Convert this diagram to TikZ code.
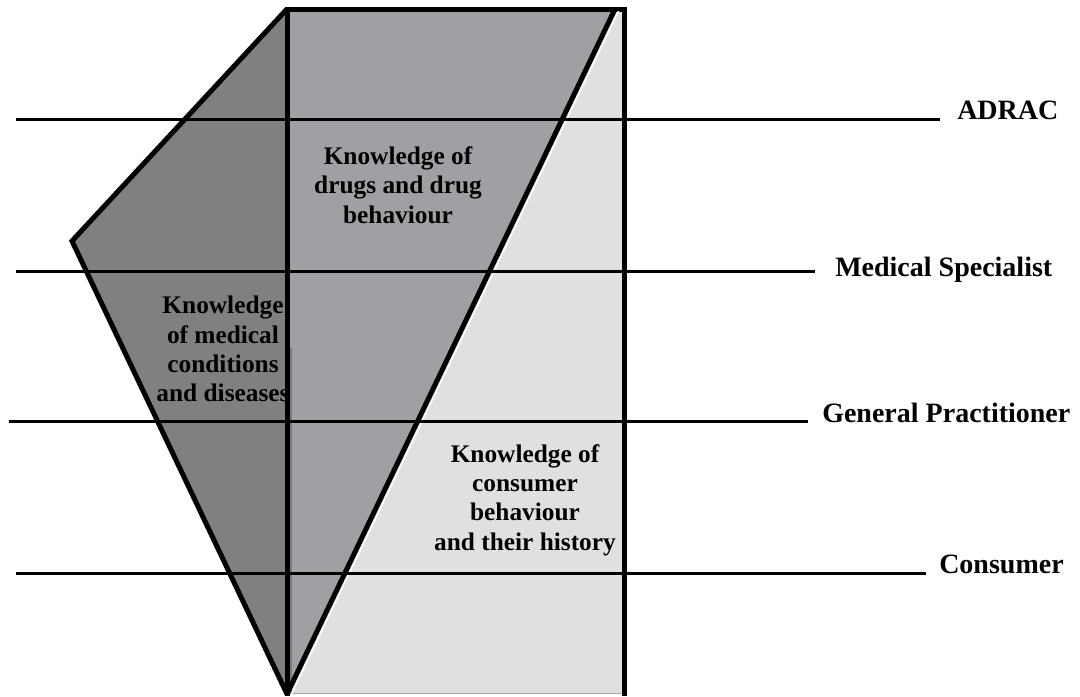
\documentclass[tikz,border=0pt]{standalone}
\usepackage{fontspec}
\setmainfont{Liberation Serif}
\definecolor{darkshade}{HTML}{808080}
\definecolor{midshade}{HTML}{A09FA4}
\definecolor{lightshade}{HTML}{E0E0E0}
\begin{document}
\begin{tikzpicture}[x=0.75pt,y=-0.75pt,
  outline/.style={line width=3.75pt, line join=miter},
  level/.style={line width=2.25pt},
  levellabel/.style={inner sep=0pt, anchor=base west, font=\fontsize{21}{24}\selectfont\bfseries},
  areatext/.style={inner sep=0pt, align=center, font=\fontsize{19}{22}\selectfont\bfseries}]
\useasboundingbox (0,0) rectangle (1080,696);

% corner points of the prism
\coordinate (top)    at (287,9);
\coordinate (tr)     at (624,9);
\coordinate (diagtop) at (615,9);
\coordinate (apex)   at (287,694);
\coordinate (left)   at (72,241);
\coordinate (br)     at (624,696);
\coordinate (bl)     at (287,696);

% shaded faces
\fill[lightshade, draw=gray!70, line width=0.75pt] (287,9) rectangle (624,693);
\fill[midshade] (top) -- (diagtop) -- (apex) -- cycle;
\fill[darkshade] (top) -- (left) -- (apex) -- cycle;
\fill[darkshade!95!black] (287,348) rectangle (292,694);

% outlines
\draw[outline] (bl) -- (top) -- (tr) -- (br);
\draw[outline] (top) -- (left) -- (apex);
\draw[outline] (diagtop) -- (apex);
\begin{scope}
  \clip (287,11) rectangle (622,693);
  \draw[white, line width=1.1pt] (619.5,9) -- (291.5,694);
\end{scope}

% knowledge areas
\node[areatext] (drugs) at (398,185) {Knowledge of\\drugs and drug\\behaviour};
\node[areatext] (medical) at (223,349) {Knowledge\\of medical\\conditions\\and diseases};
\node[areatext] (consumer) at (525,500) {Knowledge of\\consumer\\behaviour\\and their history};

% levels of expertise
\coordinate (l1s) at (16,119);  \coordinate (l1e) at (940,119);
\coordinate (l2s) at (16,271);  \coordinate (l2e) at (815,271);
\coordinate (l3s) at (9,421);   \coordinate (l3e) at (808,421);
\coordinate (l4s) at (16,573);  \coordinate (l4e) at (926,573);
\draw[level] (l1s) -- (l1e);
\draw[level] (l2s) -- (l2e);
\draw[level] (l3s) -- (l3e);
\draw[level] (l4s) -- (l4e);

\node[levellabel] (adrac) at (957,119) {ADRAC};
\node[levellabel] (spec) at (835,276) {Medical Specialist};
\node[levellabel] (gp) at (822,422) {General Practitioner};
\node[levellabel] (cons) at (939,573) {Consumer};
\end{tikzpicture}
\end{document}
